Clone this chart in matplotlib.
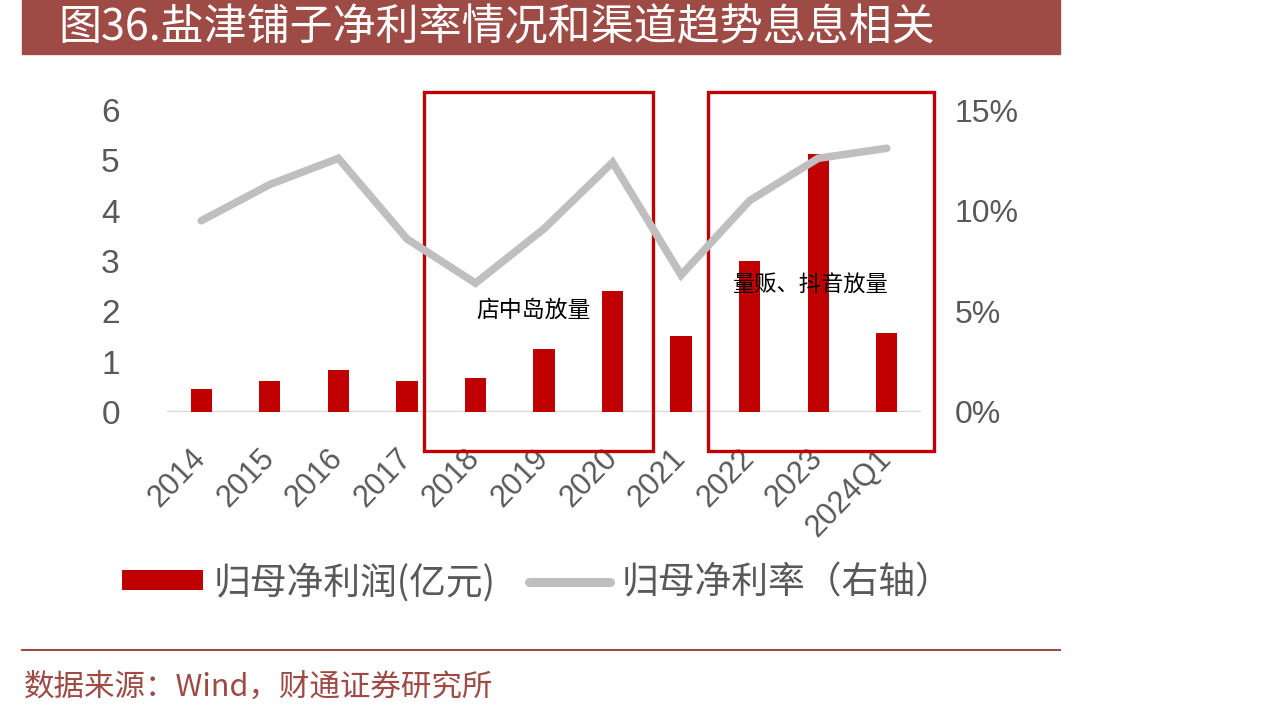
import matplotlib
matplotlib.use("Agg")
import matplotlib.pyplot as plt
from matplotlib.patches import Rectangle, Patch
from matplotlib.lines import Line2D
import numpy as np

plt.rcParams['font.family'] = ['Noto Sans CJK SC', 'DejaVu Sans']

# 数据
years = ["2014", "2015", "2016", "2017", "2018", "2019", "2020",
         "2021", "2022", "2023", "2024Q1"]
profit = [0.46, 0.62, 0.83, 0.62, 0.68, 1.25, 2.40, 1.51, 3.00, 5.13, 1.57]
margin = [9.5, 11.3, 12.6, 8.6, 6.4, 9.1, 12.4, 6.8, 10.5, 12.6, 13.1]

left_ticks = [0, 1, 2, 3, 4, 5, 6]
right_ticks = [0, 5, 10, 15]

bar_color = "#C00000"
line_color = "#BFBFBF"
tick_color = "#595959"
brand = "#9E4A45"

fig = plt.figure(figsize=(12.73, 7.17), dpi=100)

# 标题栏
fig.patches.append(Rectangle((22 / 1273, 1 - 54 / 717), (1060 - 22) / 1273, 54 / 717,
                             transform=fig.transFigure, color=brand, zorder=0))
fig.text(58 / 1273, 1 - 28 / 717, "图36.盐津铺子净利率情况和渠道趋势息息相关",
         color="white", fontsize=31, va="center", ha="left")

ax = fig.add_axes([167 / 1273, 1 - 412 / 717, (921 - 167) / 1273, (412 - 110) / 717])
ax2 = ax.twinx()

x = np.arange(len(years))
ax.bar(x, profit, width=0.31, color=bar_color, zorder=3)
ax.axhline(0, color="#D9D9D9", lw=2.5, zorder=2)
ax2.plot(x, margin, color=line_color, lw=5.5, solid_capstyle="round",
         solid_joinstyle="miter", zorder=3)

ax.set_xlim(-0.5, len(years) - 0.5)
ax.set_ylim(0, 6)
ax2.set_ylim(0, 15)
ax.set_yticks(left_ticks)
ax.set_yticklabels([str(t) for t in left_ticks])
ax2.set_yticks(right_ticks)
ax2.set_yticklabels([f"{t}%" for t in right_ticks])
ax.set_xticks(x)
ax.set_xticklabels(years, rotation=46, ha="right", va="center", rotation_mode="anchor")

for a in (ax, ax2):
    for s in a.spines.values():
        s.set_visible(False)
    a.tick_params(length=0, colors=tick_color)
ax.tick_params(axis="y", labelsize=24, pad=34)
ax2.tick_params(axis="y", labelsize=23, pad=24)
ax.tick_params(axis="x", labelsize=22, pad=30)
for lab in ax.get_yticklabels() + ax2.get_yticklabels() + ax.get_xticklabels():
    lab.set_family(["Liberation Sans", "DejaVu Sans"])

# 红框与注释
boxes = [(3.25, 6.59), (7.39, 10.69)]
for x0, x1 in boxes:
    ax.add_patch(Rectangle((x0, -0.77), x1 - x0, 6.36 + 0.77, fill=False,
                           edgecolor=bar_color, lw=2.4, clip_on=False, zorder=5))
ax.text(4.84, 2.03, "店中岛放量", fontsize=16.5, color="black", ha="center", va="center", zorder=6)
ax.text(8.89, 2.52, "量贩、抖音放量", fontsize=16, color="black", ha="center", va="center", zorder=6)

# 图例
handles = [Patch(facecolor=bar_color, edgecolor="none"),
           Line2D([0], [0], color=line_color, lw=6.5, solid_capstyle="round")]
fig.legend(handles, ["归母净利润(亿元)", "归母净利率（右轴）"], ncol=2,
           loc="center", bbox_to_anchor=(537 / 1273, 1 - 583 / 717), frameon=False,
           fontsize=26.5, labelcolor=tick_color, handlelength=2.2, handleheight=0.45,
           handletextpad=0.3, columnspacing=0.9)

# 底部
fig.add_artist(Line2D([22 / 1273, 1060 / 1273], [1 - 650 / 717, 1 - 650 / 717],
                      transform=fig.transFigure, color=brand, lw=1.5))
fig.text(24 / 1273, 1 - 687 / 717, "数据来源：Wind，财通证券研究所", color=brand,
         fontsize=22, va="center", ha="left")

fig.savefig("out.png", dpi=100)
